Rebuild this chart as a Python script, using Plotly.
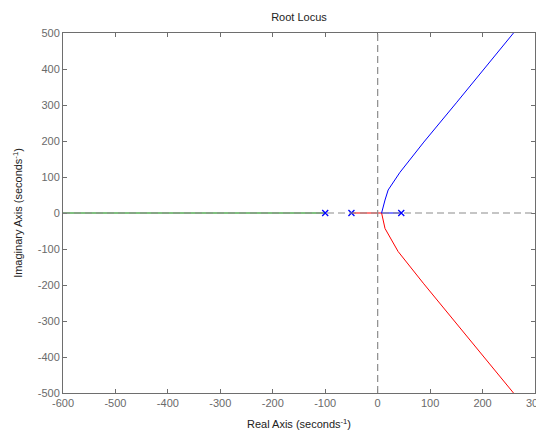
import plotly.graph_objects as go

# Poles (open-loop)
pole_re = [-100, -50, 45]
pole_im = [0, 0, 0]

# Branch 1 (blue): from pole at 45 to breakaway then upward
blue_re = [45, 30, 7.5, 14, 20, 42.5, 88, 150, 217, 259]
blue_im = [0, 0, 0, 36, 64, 113, 197, 306, 425, 500]

# Branch 2 (red): from pole at -50 to breakaway then downward
red_re = [-50, -20, 7.5, 14, 39, 87, 150, 222, 259]
red_im = [0, 0, 0, -43, -107, -195, -306, -434, -500]

# Branch 3 (green): from pole at -100 along negative real axis
green_re = [-100, -300, -600]
green_im = [0, 0, 0]

x_ticks = [-600, -500, -400, -300, -200, -100, 0, 100, 200, 300]
y_ticks = [-500, -400, -300, -200, -100, 0, 100, 200, 300, 400, 500]

font_family = "Liberation Sans, Arial, sans-serif"
tick_color = "#6a6a6a"

fig = go.Figure()
fig.add_trace(go.Scatter(x=green_re, y=green_im, mode="lines",
                         line=dict(color="#008000", width=1), showlegend=False))
fig.add_trace(go.Scatter(x=red_re, y=red_im, mode="lines",
                         line=dict(color="#ff0000", width=1), showlegend=False))
fig.add_trace(go.Scatter(x=blue_re, y=blue_im, mode="lines",
                         line=dict(color="#0000ff", width=1), showlegend=False))

# dashed axes through origin
fig.add_shape(type="line", xref="paper", yref="y", x0=0, x1=1, y0=0, y1=0,
              line=dict(color="#8c8c8c", width=1.2, dash="7px,4px"), layer="above")
fig.add_shape(type="line", xref="x", yref="paper", x0=0, x1=0, y0=0, y1=1,
              line=dict(color="#8c8c8c", width=1.2, dash="7px,4px"), layer="above")

fig.add_trace(go.Scatter(x=pole_re, y=pole_im, mode="markers",
                         marker=dict(symbol="x-thin", size=6, color="#0000ff",
                                     line=dict(color="#0000ff", width=1.3)),
                         showlegend=False))

axis_common = dict(
    showgrid=False, zeroline=False, showline=True, linecolor="#6e6e6e",
    linewidth=1, mirror="ticks", ticks="inside", ticklen=4, tickcolor="#6e6e6e",
    automargin=False,
    tickfont=dict(family=font_family, size=11, color=tick_color),
)

# last x tick label (partly cut at the figure edge, as in the reference)
fig.add_annotation(x=x_ticks[-1], xref="x", y=0, yref="paper", yanchor="top",
                   xanchor="center", yshift=-2, showarrow=False,
                   text=str(x_ticks[-1]),
                   font=dict(family=font_family, size=11, color=tick_color))

fig.update_layout(
    width=536, height=425,
    margin=dict(l=55, r=9, t=25, b=40),
    paper_bgcolor="white", plot_bgcolor="white",
    title=dict(text="Root Locus", xref="paper", x=0.5, xanchor="center",
               y=0.979, yanchor="middle",
               font=dict(family=font_family, size=11, color="#222")),
    xaxis=dict(range=[-600, 300], tickvals=x_ticks[:-1],
               ticktext=[str(v) for v in x_ticks[:-1]],
               title=dict(text="Real Axis (seconds<sup>-1</sup>)", standoff=12,
                          font=dict(family=font_family, size=11, color="#222")),
               **axis_common),
    yaxis=dict(range=[-500, 500], tickvals=y_ticks, ticktext=[str(v) for v in y_ticks],
               title=dict(text="Imaginary Axis (seconds<sup>-1</sup>)", standoff=12,
                          font=dict(family=font_family, size=11, color="#222")),
               **axis_common),
)

fig.write_html("out.html")
